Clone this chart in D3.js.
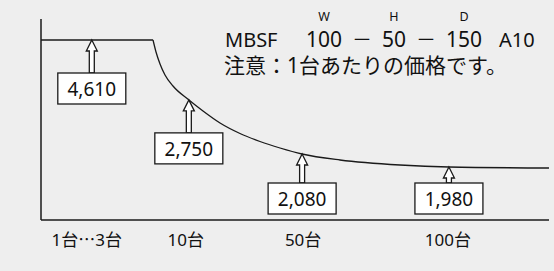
<!DOCTYPE html>
<html>
<head>
<meta charset="utf-8">
<script src="https://cdn.jsdelivr.net/npm/d3@7"></script>
<style>
  body { margin: 0; background: #eeeeee; }
  svg { display: block; }
</style>
</head>
<body>
<script>
// quantity ticks along the bottom
var qtyLabels = ["1台…3台", "10台", "50台", "100台"];
var qtyPos = [9.0, 28.5, 51.6, 80.1];

// unit prices and where they sit on the curve
var prices = [4610, 2750, 2080, 1980];
var pricePos = [10.0, 29.1, 51.4, 80.3];

// price curve (schematic levels)
var plateau = [[0, 90], [22.05, 90]];
var decline = [
  [22.05, 90], [22.64, 84], [23.43, 78], [24.41, 72.5], [25.98, 67],
  [29.13, 60], [31.89, 54.5], [35.24, 48.5], [39.17, 43.25], [43.11, 39.25],
  [47.05, 36], [51.38, 33], [58.86, 30], [70.67, 27.5], [80.31, 26.5], [100, 26]
];

// model code
var dimKeys = ["W", "H", "D"];
var dims = ["100", "50", "150"];

var w = 554, h = 271;
var font = "'Noto Sans', 'Noto Sans CJK JP', sans-serif";
var cjk = "'Noto Sans CJK JP', sans-serif";

var svg = d3.select("body").append("svg")
  .attr("width", w)
  .attr("height", h);

var x = d3.scaleLinear().domain([0, 100]).range([41, 549]);
var y = d3.scaleLinear().domain([0, 100]).range([220, 20]);

// axes lines
svg.append("line")
  .attr("x1", x(0)).attr("x2", x(0))
  .attr("y1", y(100.5)).attr("y2", y(0))
  .attr("stroke", "#1a1a1a").attr("stroke-width", 1.5);
svg.append("line")
  .attr("x1", x(0)).attr("x2", x(100))
  .attr("y1", y(0)).attr("y2", y(0))
  .attr("stroke", "#1a1a1a").attr("stroke-width", 1.5);

var line = d3.line().x(function(d) { return x(d[0]); }).y(function(d) { return y(d[1]); });

svg.append("path")
  .attr("d", line(plateau))
  .attr("fill", "none").attr("stroke", "#1a1a1a").attr("stroke-width", 1.5);

var curvePath = svg.append("path")
  .attr("d", line.curve(d3.curveMonotoneX)(decline))
  .attr("fill", "none").attr("stroke", "#1a1a1a").attr("stroke-width", 1.3);

// find y of the curve at a given pixel x
var pathNode = curvePath.node();
var total = pathNode.getTotalLength();
function curveY(px) {
  if (px <= x(plateau[1][0])) return y(plateau[0][1]);
  var lo = 0, hi = total;
  for (var k = 0; k < 40; k++) {
    var mid = (lo + hi) / 2;
    if (pathNode.getPointAtLength(mid).x < px) lo = mid; else hi = mid;
  }
  return pathNode.getPointAtLength(lo).y;
}

// hollow arrow from box up to curve
var boxW = 68, boxH = 31;
var fmt = d3.format(",");
prices.forEach(function(p, i) {
  var cx = x(pricePos[i]);
  var tip = curveY(cx);
  var top = Math.min(tip + 33, y(18.5));
  var headH = 11, headW = 5.5, shaft = 2.5;
  var pts = [
    [cx, tip], [cx + headW, tip + headH], [cx + shaft, tip + headH],
    [cx + shaft, top], [cx - shaft, top], [cx - shaft, tip + headH],
    [cx - headW, tip + headH]
  ];
  svg.append("path")
    .attr("d", "M" + pts.join("L") + "Z")
    .attr("fill", "#fff").attr("stroke", "#1a1a1a").attr("stroke-width", 1.3)
    .attr("stroke-linejoin", "miter");
  svg.append("rect")
    .attr("x", cx - boxW / 2).attr("y", top)
    .attr("width", boxW).attr("height", boxH)
    .attr("fill", "#fff").attr("stroke", "#1a1a1a").attr("stroke-width", 1.3);
  svg.append("text")
    .attr("x", cx).attr("y", top + 23)
    .attr("text-anchor", "middle")
    .attr("font-family", font).attr("font-size", 19)
    .attr("fill", "#111")
    .text(fmt(p));
});

// quantity labels (ellipsis drawn in the CJK face so the dots sit mid-height)
svg.selectAll("text.qty")
  .data(qtyLabels)
  .enter()
  .append("text")
  .attr("class", "qty")
  .attr("x", function(d, i) { return x(qtyPos[i]); })
  .attr("y", 246)
  .attr("text-anchor", "middle")
  .attr("font-family", font).attr("font-size", 17)
  .attr("fill", "#111")
  .each(function(d) {
    var t = d3.select(this);
    d.split(/(…)/).forEach(function(part) {
      if (!part) return;
      var s = t.append("tspan").text(part);
      if (part === "…") s.attr("font-family", cjk);
    });
  });

// model title
var title = svg.append("g")
  .attr("font-family", font).attr("fill", "#111");
title.append("text").attr("x", 225).attr("y", 46.5).attr("font-size", 20).text("MBSF");
var dimX = [324, 394, 464];
dims.forEach(function(d, i) {
  title.append("text").attr("x", dimX[i]).attr("y", 21).attr("font-size", 12.5)
    .attr("text-anchor", "middle").text(dimKeys[i]);
  title.append("text").attr("x", dimX[i]).attr("y", 46.5).attr("font-size", 21)
    .attr("text-anchor", "middle").text(d);
});
[362, 426].forEach(function(dx) {
  title.append("text").attr("x", dx).attr("y", 46.5).attr("font-size", 20)
    .attr("text-anchor", "middle").attr("font-family", cjk).text("－");
});
title.append("text").attr("x", 499).attr("y", 46.5).attr("font-size", 20).text("A10");
title.append("text").attr("x", 224).attr("y", 73).attr("font-size", 21)
  .text("注意：1台あたりの価格です。");
</script>
</body>
</html>
